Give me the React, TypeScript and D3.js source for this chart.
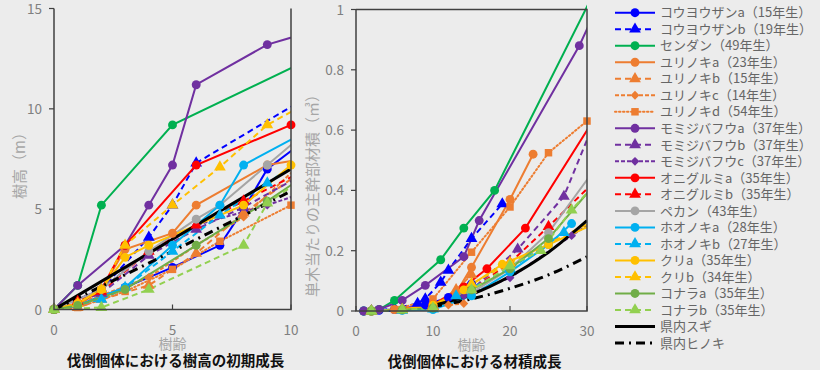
import React from 'react';
import * as d3 from 'd3';

type Pt = [number, number];

// 凡例（系列名）
const seriesNames = [
  'コウヨウザンa（15年生）', 'コウヨウザンb（19年生）', 'センダン（49年生）',
  'ユリノキa（23年生）', 'ユリノキb（15年生）', 'ユリノキc（14年生）', 'ユリノキd（54年生）',
  'モミジバフウa（37年生）', 'モミジバフウb（37年生）', 'モミジバフウc（37年生）',
  'オニグルミa（35年生）', 'オニグルミb（35年生）', 'ペカン（43年生）',
  'ホオノキa（28年生）', 'ホオノキb（27年生）', 'クリa（35年生）', 'クリb（34年生）',
  'コナラa（35年生）', 'コナラb（35年生）', '県内スギ', '県内ヒノキ',
];

// 樹高（m） [樹齢, 樹高]  ※10年を超える点は枠外（線の延長のみ）
const hKouyouzanA: Pt[] = [[0, 0], [1, 0.2], [3, 1.1], [5, 2.1], [7, 3.2], [8, 5.0], [9, 7.0], [11, 8.8]];
const hKouyouzanB: Pt[] = [[0, 0], [2, 1.0], [4, 3.6], [5, 5.2], [6, 7.3], [11, 10.8]];
const hSendan: Pt[] = [[0, 0], [1, 1.2], [2, 5.2], [5, 9.2], [11, 12.6]];
const hYurinokiA: Pt[] = [[0, 0], [1, 0.2], [2, 1.0], [3, 3.0], [5, 3.8], [6, 5.2], [9, 7.2], [11, 7.6]];
const hYurinokiB: Pt[] = [[0, 0], [1, 0.1], [2, 0.5], [4, 1.2], [6, 2.8], [8, 4.8], [11, 7.35]];
const hYurinokiC: Pt[] = [[0, 0], [1, 0.3], [2, 0.7], [4, 1.6], [6, 3.2], [8, 4.6], [11, 7.9]];
const hYurinokiD: Pt[] = [[0, 0], [1, 0.1], [3, 0.9], [5, 2.0], [7, 3.4], [10, 5.2]];
const hMomijiA: Pt[] = [[0, 0], [1, 1.2], [3, 3.2], [4, 5.2], [5, 7.2], [6, 11.2], [9, 13.2], [11, 13.9]];
const hMomijiB: Pt[] = [[0, 0], [2, 0.8], [4, 2.7], [6, 4.0], [8, 5.1], [11, 7.05]];
const hMomijiC: Pt[] = [[0, 0], [2, 1.0], [4, 2.9], [6, 4.2], [9, 5.2], [11, 6.0]];
const hOniA: Pt[] = [[0, 0], [1, 0.3], [2, 1.0], [3, 3.2], [6, 7.2], [10, 9.2]];
const hOniB: Pt[] = [[0, 0], [1, 0.4], [2, 0.9], [4, 2.9], [6, 4.2], [8, 5.4], [11, 7.2]];
const hPecan: Pt[] = [[0, 0], [2, 1.0], [4, 2.9], [6, 4.5], [7, 5.2], [9, 7.2], [11, 9.2]];
const hHoonokiA: Pt[] = [[0, 0], [1, 0.2], [3, 1.1], [5, 3.2], [7, 5.2], [8, 7.2], [11, 9.1]];
const hHoonokiB: Pt[] = [[0, 0], [2, 0.5], [3, 1.1], [5, 2.9], [7, 4.7], [9, 6.3], [11, 7.9]];
const hKuriA: Pt[] = [[0, 0], [1, 0.3], [2, 1.0], [3, 2.6], [4, 3.2], [8, 5.2], [10, 7.2]];
const hKuriB: Pt[] = [[0, 0], [1, 0.3], [2, 1.0], [3, 3.2], [5, 5.2], [7, 7.1], [9, 9.2], [11, 10.5]];
const hKonaraA: Pt[] = [[0, 0], [1, 0.2], [3, 1.0], [6, 3.2], [9, 5.4], [11, 7.0]];
const hKonaraB: Pt[] = [[0, 0], [2, 0.1], [4, 1.0], [8, 3.2], [9, 5.3], [11, 6.9]];
const hSugi: Pt[] = [[0, 0], [5, 3.5], [10, 7.0]];
const hHinoki: Pt[] = [[0, 0], [5, 2.9], [10, 5.9]];

// 単木当たりの主幹部材積（m3） [樹齢, 材積]
const vKouyouzanA: Pt[] = [[1, 0], [3, 0.002], [5, 0.005], [9, 0.02], [12, 0.045], [15, 0.09]];
const vKouyouzanB: Pt[] = [[2, 0], [5, 0.008], [8, 0.025], [9, 0.04], [11, 0.095], [12, 0.135], [15, 0.24], [19, 0.355]];
const vSendan: Pt[] = [[1, 0], [3, 0.005], [5, 0.035], [11, 0.17], [14, 0.275], [18, 0.4], [31, 1.06]];
const vYurinokiA: Pt[] = [[2, 0], [5, 0.005], [10, 0.02], [13, 0.06], [15, 0.145], [20, 0.37], [23, 0.52]];
const vYurinokiB: Pt[] = [[2, 0], [6, 0.005], [10, 0.02], [13, 0.07], [15, 0.12]];
const vYurinokiC: Pt[] = [[2, 0], [6, 0.004], [10, 0.015], [12, 0.02], [14, 0.025]];
const vYurinokiD: Pt[] = [[2, 0], [5, 0.005], [10, 0.04], [15, 0.195], [20, 0.345], [25, 0.525], [30, 0.63]];
const vMomijiA: Pt[] = [[1, 0], [3, 0.005], [6, 0.035], [9, 0.085], [14, 0.18], [16, 0.3], [29, 0.88], [31, 0.99]];
const vMomijiB: Pt[] = [[2, 0], [6, 0.005], [10, 0.015], [15, 0.07], [21, 0.205], [27, 0.38], [31, 0.63]];
const vMomijiC: Pt[] = [[2, 0], [6, 0.004], [10, 0.012], [14, 0.05], [20, 0.11], [28, 0.25], [31, 0.3]];
const vOniA: Pt[] = [[2, 0], [6, 0.005], [10, 0.02], [14, 0.08], [17, 0.14], [22, 0.275], [31, 0.64]];
const vOniB: Pt[] = [[2, 0], [6, 0.004], [10, 0.015], [15, 0.07], [20, 0.16], [25, 0.28], [31, 0.43]];
const vPecan: Pt[] = [[2, 0], [6, 0.004], [10, 0.01], [15, 0.06], [20, 0.14], [25, 0.26], [31, 0.47]];
const vHoonokiA: Pt[] = [[2, 0], [6, 0.002], [10, 0.005], [15, 0.05], [20, 0.13], [25, 0.22], [28, 0.29]];
const vHoonokiB: Pt[] = [[2, 0], [6, 0.002], [10, 0.006], [13, 0.05], [20, 0.14], [27, 0.26]];
const vKuriA: Pt[] = [[2, 0], [6, 0.005], [10, 0.02], [14, 0.07], [19, 0.155], [25, 0.22], [31, 0.29]];
const vKuriB: Pt[] = [[2, 0], [6, 0.005], [10, 0.015], [15, 0.09], [20, 0.16], [31, 0.3]];
const vKonaraA: Pt[] = [[2, 0], [6, 0.004], [10, 0.01], [15, 0.07], [20, 0.14], [25, 0.24], [31, 0.42]];
const vKonaraB: Pt[] = [[2, 0], [6, 0.004], [10, 0.01], [15, 0.07], [20, 0.15], [24, 0.2], [28, 0.335], [31, 0.42]];
const vSugi: Pt[] = [[10, 0.018], [15, 0.055], [20, 0.115], [25, 0.195], [30, 0.3]];
const vHinoki: Pt[] = [[10, 0.015], [15, 0.04], [20, 0.075], [25, 0.12], [30, 0.18]];

const heightSeries = [hKouyouzanA, hKouyouzanB, hSendan, hYurinokiA, hYurinokiB, hYurinokiC, hYurinokiD,
  hMomijiA, hMomijiB, hMomijiC, hOniA, hOniB, hPecan, hHoonokiA, hHoonokiB, hKuriA, hKuriB,
  hKonaraA, hKonaraB, hSugi, hHinoki];
const volumeSeries = [vKouyouzanA, vKouyouzanB, vSendan, vYurinokiA, vYurinokiB, vYurinokiC, vYurinokiD,
  vMomijiA, vMomijiB, vMomijiC, vOniA, vOniB, vPecan, vHoonokiA, vHoonokiB, vKuriA, vKuriB,
  vKonaraA, vKonaraB, vSugi, vHinoki];

const heightTicks = [0, 5, 10, 15];
const heightAgeTicks = [0, 5, 10];
const volumeTicks = [0, 0.2, 0.4, 0.6, 0.8, 1];
const volumeAgeTicks = [0, 10, 20, 30];

// 系列スタイル
const BLUE = '#0000ff', GREEN = '#00b050', ORANGE = '#ed7d31', PURPLE = '#7030a0', RED = '#ff0000';
const GRAY = '#a5a5a5', SKY = '#00b0f0', GOLD = '#ffc000', OLIVE = '#70ad47', LIME = '#92d050';
const DASH = '6,4', SDASH = '4,2', DOT = '1.5,2.5';
type Style = { color: string; dash?: string; marker?: string; width?: number; smooth?: boolean };
const styles: Style[] = [
  { color: BLUE, marker: 'circle' }, { color: BLUE, dash: DASH, marker: 'triangle' },
  { color: GREEN, marker: 'circle' },
  { color: ORANGE, marker: 'circle' }, { color: ORANGE, dash: DASH, marker: 'triangle' },
  { color: ORANGE, dash: SDASH, marker: 'diamond' }, { color: ORANGE, dash: DOT, marker: 'square' },
  { color: PURPLE, marker: 'circle' }, { color: PURPLE, dash: DASH, marker: 'triangle' },
  { color: PURPLE, dash: SDASH, marker: 'diamond' },
  { color: RED, marker: 'circle' }, { color: RED, dash: DASH, marker: 'triangle' },
  { color: GRAY, marker: 'circle' },
  { color: SKY, marker: 'circle' }, { color: SKY, dash: DASH, marker: 'triangle' },
  { color: GOLD, marker: 'circle' }, { color: GOLD, dash: DASH, marker: 'triangle' },
  { color: OLIVE, marker: 'circle' }, { color: LIME, dash: DASH, marker: 'triangle' },
  { color: '#000', width: 3, smooth: true }, { color: '#000', width: 3, dash: '9,5,2,5', smooth: true },
];

const symbolOf: Record<string, [d3.SymbolType, number]> = {
  circle: [d3.symbolCircle, 62],
  triangle: [d3.symbolTriangle, 60],
  diamond: [d3.symbolDiamond2, 50],
  square: [d3.symbolSquare, 56],
};

const FONT = '"Noto Sans CJK JP", "Noto Sans", sans-serif';

const Marker = ({ kind, x, y, color }: { kind: string; x: number; y: number; color: string }) => {
  const [t, s] = symbolOf[kind];
  return <path d={d3.symbol(t, s)() || ''} transform={`translate(${x},${y})`} fill={color} />;
};

type PanelProps = {
  id: string; data: Pt[][]; xDomain: [number, number]; yDomain: [number, number];
  left: number; right: number; top: number; bottom: number;
  xTicks: number[]; yTicks: number[]; yLabel: string; yLabelX: number; yLabelY: number; caption: string; topBorder: boolean;
};

const Panel = (p: PanelProps) => {
  const x = d3.scaleLinear().domain(p.xDomain).range([p.left, p.right]);
  const y = d3.scaleLinear().domain(p.yDomain).range([p.bottom, p.top]);
  const mid = (p.left + p.right) / 2;
  return (
    <g>
      <defs>
        <clipPath id={`${p.id}-l`}><rect x={p.left} y={p.top - 40} width={p.right - p.left} height={p.bottom - p.top + 60} /></clipPath>
      </defs>
      {p.yTicks.map(t => (
        <g key={`y${t}`}>
          <line x1={p.left - 5} x2={p.left} y1={y(t)} y2={y(t)} stroke="#404040" strokeWidth={1.2} />
          <text x={p.left - 12} y={y(t) + 5} textAnchor="end" fontSize={13.5} fill="#7f7f7f" fontFamily={FONT}>{t}</text>
        </g>
      ))}
      {p.xTicks.map(t => (
        <g key={`x${t}`}>
          <line x1={x(t)} x2={x(t)} y1={p.bottom} y2={p.bottom - 5} stroke="#404040" strokeWidth={1.2} />
          <text x={x(t)} y={p.bottom + 25} textAnchor="middle" fontSize={13.5} fill="#7f7f7f" fontFamily={FONT}>{t}</text>
        </g>
      ))}
      <g clipPath={`url(#${p.id}-l)`}>
        {p.data.map((d, i) => {
          const st = styles[i];
          const line = d3.line<Pt>().x(v => x(v[0])).y(v => y(v[1]));
          if (st.smooth) line.curve(d3.curveMonotoneX);
          return <path key={i} d={line(d) || ''} fill="none" stroke={st.color} strokeWidth={st.width || 2}
            strokeDasharray={st.dash} strokeLinecap={st.dash === DOT ? 'round' : 'butt'} />;
        })}
      </g>
      {p.data.map((d, i) => styles[i].marker ? d.filter(v => v[0] <= p.xDomain[1]).map((v, j) => (
        <Marker key={`${i}-${j}`} kind={styles[i].marker!} x={x(v[0])} y={y(v[1])} color={styles[i].color} />
      )) : null)}
      <path d={`M${p.left},${p.top}V${p.bottom}H${p.right}V${p.top}${p.topBorder ? `H${p.left}` : ''}`}
        fill="none" stroke="#404040" strokeWidth={1.5} />
      <text transform={`translate(${p.yLabelX},${p.yLabelY}) rotate(-90)`} textAnchor="middle" dy="0.35em"
        fontSize={15} fill="#a6a6a6" fontFamily={FONT}>{p.yLabel}</text>
      <text x={mid} y={p.bottom + 39} textAnchor="middle" fontSize={14} fill="#a6a6a6" fontFamily={FONT}>樹齢</text>
      <text x={mid + 3} y={p.bottom + 56} textAnchor="middle" fontSize={14.5} fontWeight="bold" fill="#111" fontFamily={FONT}>{p.caption}</text>
    </g>
  );
};

const Legend = () => {
  const rows = d3.scaleLinear().domain([0, 20]).range([12.7, 343]);
  return (
    <g>
      {seriesNames.map((name, i) => {
        const st = styles[i];
        const yy = rows(i);
        return (
          <g key={name}>
            <line x1={615} x2={655} y1={yy} y2={yy} stroke={st.color} strokeWidth={st.width || 2}
              strokeDasharray={st.dash} strokeLinecap={st.dash === DOT ? 'round' : 'butt'} />
            {st.marker && <Marker kind={st.marker} x={635} y={yy} color={st.color} />}
            <text x={660} y={yy} dy="0.36em" fontSize={13} fill="#666" fontFamily={FONT}>{name}</text>
          </g>
        );
      })}
    </g>
  );
};

export default function App() {
  return (
    <svg width={820} height={370} style={{ position: 'absolute', left: 0, top: 0, background: '#ececec' }}>
      <rect width={820} height={370} fill="#ececec" />
      <Panel id="h" data={heightSeries} xDomain={[0, 10]} yDomain={[0, 15]} left={54} right={291} top={8.5} bottom={309.5}
        xTicks={heightAgeTicks} yTicks={heightTicks} yLabel="樹高（m）" yLabelX={20} yLabelY={162}
        caption="伐倒個体における樹高の初期成長" topBorder={false} />
      <Panel id="v" data={volumeSeries} xDomain={[0, 30]} yDomain={[0, 1]} left={356} right={587} top={9.5} bottom={311}
        xTicks={volumeAgeTicks} yTicks={volumeTicks} yLabel="単木当たりの主幹部材積（㎥）" yLabelX={313} yLabelY={192}
        caption="伐倒個体における材積成長" topBorder={true} />
      <Legend />
    </svg>
  );
}
